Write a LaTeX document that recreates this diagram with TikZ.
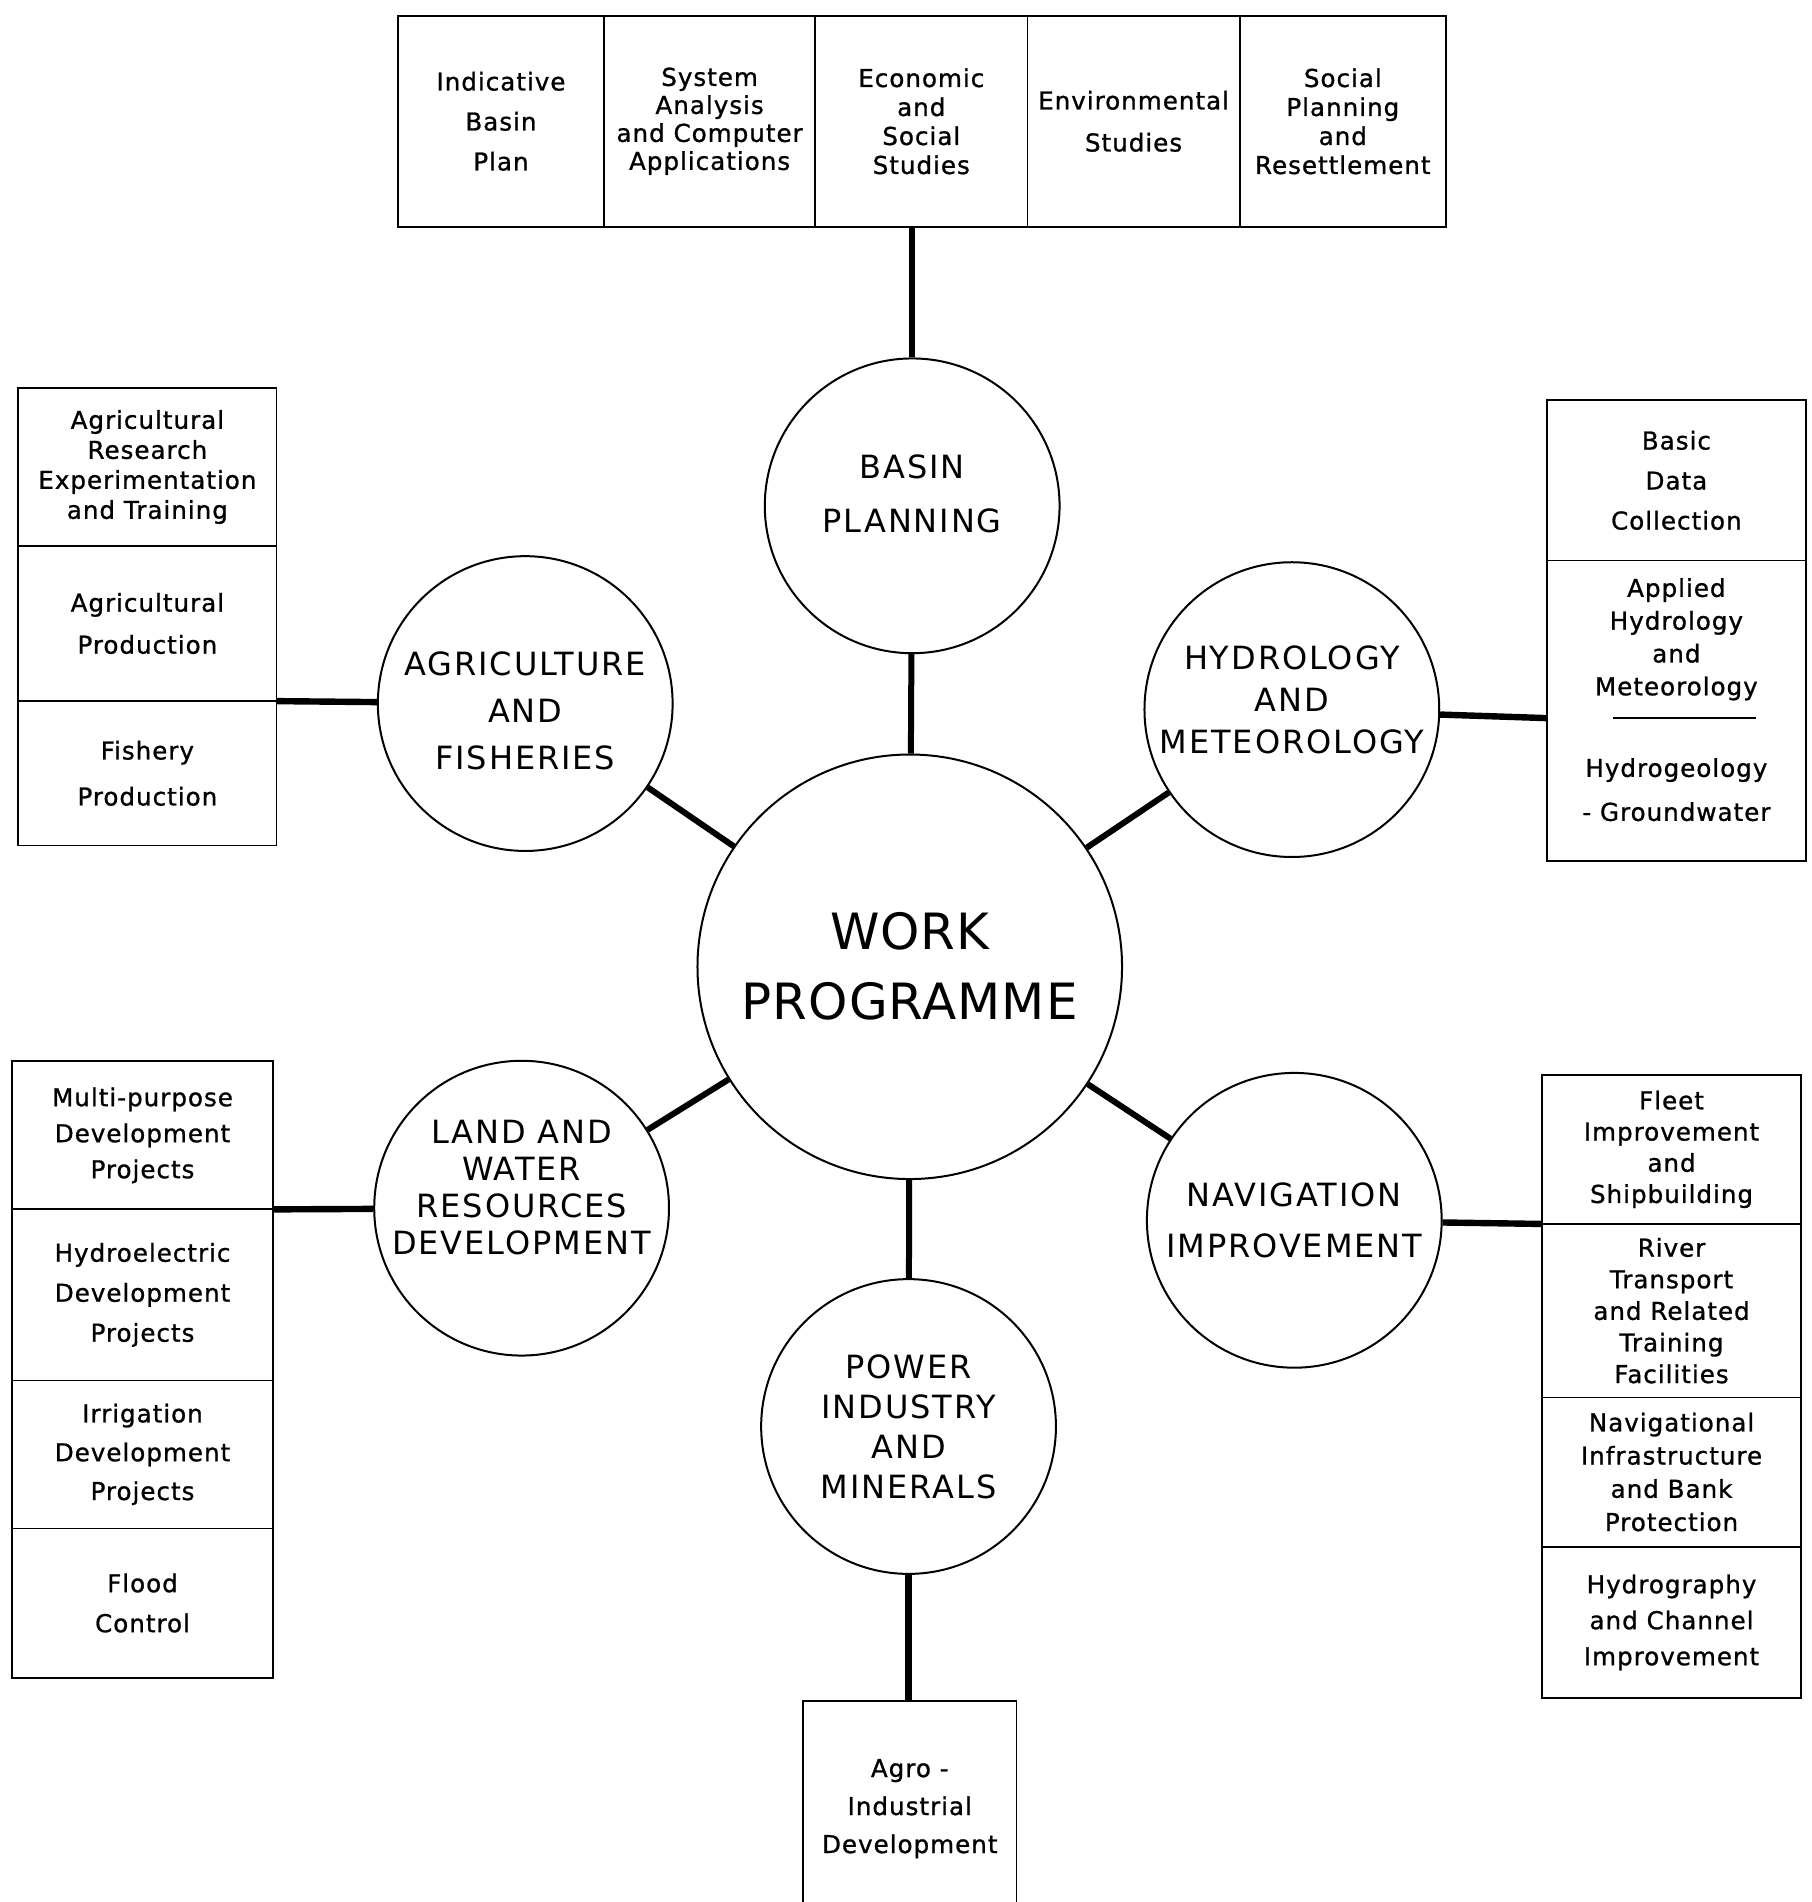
\documentclass[tikz,border=0pt]{standalone}
\usepackage{fontspec}
\setmainfont{DejaVu Sans}
\newfontfamily\boxfont[LetterSpace=4,FakeBold=1]{DejaVu Sans}
\newfontfamily\ringfont[LetterSpace=6]{DejaVu Sans}
\newfontfamily\hubfont[LetterSpace=2]{DejaVu Sans}
\usetikzlibrary{positioning}
\newcommand{\unitpx}{0.6065pt}
\tikzset{
  hub/.style={draw, circle, line width=1pt, minimum size=350*\unitpx, inner sep=0pt,
              align=center, font=\hubfont\fontsize{25}{35}\selectfont},
  topic/.style 2 args={draw, circle, line width=1pt, minimum size=243*\unitpx, inner sep=-30pt,
                align=center, text height=#2, text depth=0pt, font=\ringfont\fontsize{16}{#1}\selectfont},
  task/.style n args={3}{draw, line width=0.9pt, minimum width=#1*\unitpx, minimum height=#2*\unitpx,
                inner sep=0pt, outer sep=0pt, align=center, font=\boxfont\fontsize{12.3}{#3}\selectfont},
  spoke/.style={line width=3pt},
  link/.style={line width=3.2pt}
}

\begin{document}
\begin{tikzpicture}[x=\unitpx, y=-\unitpx]
\useasboundingbox (0,0) rectangle (1493,1568);
\node[hub] (work) at (750,797) {WORK\\PROGRAMME};
\node[topic={27pt}{26.5pt}] (basin) at (752,417) {BASIN\\PLANNING};
\node[topic={21pt}{43.9pt}] (hydro) at (1065,585) {HYDROLOGY\\AND\\METEOROLOGY};
\node[topic={25.5pt}{37.2pt}] (navi) at (1067,1006) {NAVIGATION\\IMPROVEMENT};
\node[topic={20pt}{71.7pt}] (power) at (749,1176) {POWER\\INDUSTRY\\AND\\MINERALS};
\node[topic={18.5pt}{46.6pt}] (land) at (430,996) {LAND AND\\WATER\\RESOURCES\\DEVELOPMENT};
\node[topic={23.7pt}{66.3pt}] (agri) at (433,580) {AGRICULTURE\\AND\\FISHERIES};
\foreach \t in {basin,hydro,navi,power,land,agri}
  \draw[spoke] (work) -- (\t);

\node[task={170}{174}{20pt}] (plan) at (413,100) {Indicative\\Basin\\Plan};
\node[task={174}{174}{14pt}, right=0pt of plan] (sysan) {System\\Analysis\\and Computer\\Applications};
\node[task={175}{174}{14.5pt}, right=0pt of sysan] (econ) {Economic\\and\\Social\\Studies};
\node[task={175}{174}{21pt}, right=0pt of econ] (envir) {Environmental\\Studies};
\node[task={170}{174}{14.5pt}, right=0pt of envir] (social) {Social\\Planning\\and\\Resettlement};
\draw[link] (basin.north) -- (basin.north |- econ.south);

\node[task={213}{130}{15pt}] (agres) at (121.5,385) {Agricultural\\Research\\Experimentation\\and Training};
\node[task={213}{128}{21pt}, below=0pt of agres] (agprod) {Agricultural\\Production};
\node[task={213}{119}{23pt}, below=0pt of agprod] (fish) {Fishery\\Production};
\draw[link] (agri) -- (agprod.south east);

\node[task={214}{132}{20pt}] (data) at (1382,396) {Basic\\Data\\Collection};
\node[task={214}{130}{16.4pt}, draw=none, below=0pt of data] (applied) {Applied\\Hydrology\\and\\Meteorology};
\node[task={214}{118}{22pt}, draw=none, below=0pt of applied] (hydgeo) {Hydrogeology\\- Groundwater};
\draw[line width=0.9pt] (applied.north west) -- (hydgeo.south west) -- (hydgeo.south east) -- (applied.north east);
\draw[line width=0.9pt] ([xshift=55*\unitpx]applied.south west) -- ([xshift=-41*\unitpx]applied.south east);
\draw[link] (hydro) -- (applied.south west);

\node[task={215}{122}{18pt}] (multi) at (117.5,936) {Multi-purpose\\Development\\Projects};
\node[task={215}{141}{20pt}, below=0pt of multi] (hydel) {Hydroelectric\\Development\\Projects};
\node[task={215}{122}{19.4pt}, below=0pt of hydel] (irrig) {Irrigation\\Development\\Projects};
\node[task={215}{123}{20pt}, below=0pt of irrig] (flood) {Flood\\Control};
\draw[link] (land) -- (multi.south east);

\node[task={214}{123}{15.6pt}] (fleet) at (1378,947.5) {Fleet\\Improvement\\and\\Shipbuilding};
\node[task={214}{143}{15.8pt}, below=0pt of fleet] (river) {River\\Transport\\and Related\\Training\\Facilities};
\node[task={214}{123}{16.6pt}, below=0pt of river] (infra) {Navigational\\Infrastructure\\and Bank\\Protection};
\node[task={214}{125}{18pt}, below=0pt of infra] (chan) {Hydrography\\and Channel\\Improvement};
\draw[link] (navi) -- (fleet.south west);

\node[task={176}{178}{19pt}] (agro) at (750,1491) {Agro -\\Industrial\\Development};
\draw[link] (power.south) -- (power.south |- agro.north);
\end{tikzpicture}
\end{document}
